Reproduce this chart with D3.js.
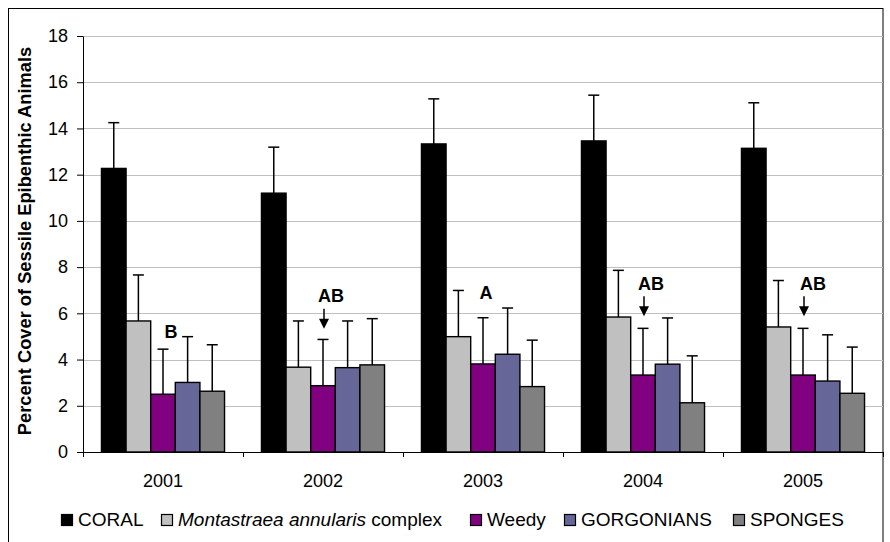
<!DOCTYPE html>
<html>
<head>
<meta charset="utf-8">
<script src="https://cdn.jsdelivr.net/npm/d3@7/dist/d3.min.js"></script>
<style>
  html, body { margin: 0; padding: 0; background: #fff; }
  svg { display: block; font-family: "Liberation Sans", Arial, sans-serif; }
</style>
</head>
<body>
<svg id="chart" width="890" height="542"></svg>
<script>
// ---------------- DATA ----------------
const years = ["2001", "2002", "2003", "2004", "2005"];
const seriesKeys = ["coral", "montastraea", "weedy", "gorgonians", "sponges"];
const coral          = [12.27, 11.20, 13.33, 13.46, 13.14];
const coralErr       = [1.98, 1.99, 1.95, 1.98, 1.97];
const montastraea    = [5.67, 3.67, 4.99, 5.84, 5.41];
const montastraeaErr = [1.99, 2.00, 2.00, 2.02, 2.01];
const weedy          = [2.50, 2.87, 3.81, 3.33, 3.33];
const weedyErr       = [1.95, 2.00, 2.00, 2.02, 2.02];
const gorgonians     = [3.01, 3.65, 4.23, 3.80, 3.07];
const gorgoniansErr  = [1.98, 2.02, 2.00, 2.00, 2.00];
const sponges        = [2.63, 3.77, 2.83, 2.13, 2.54];
const spongesErr     = [2.01, 2.00, 2.01, 2.03, 2.00];
const yTicks = [0, 2, 4, 6, 8, 10, 12, 14, 16, 18];
const annotationYears  = ["2001", "2002", "2003", "2004", "2005"];
const annotationLabels = ["B", "AB", "A", "AB", "AB"];
const annotationLevels = [5.2, 6.76, 6.91, 7.3, 7.3];
const annotationArrows = [false, true, false, true, true];

// ---------------- STYLE / LAYOUT ----------------
const values = { coral, montastraea, weedy, gorgonians, sponges };
const errors = { coral: coralErr, montastraea: montastraeaErr, weedy: weedyErr, gorgonians: gorgoniansErr, sponges: spongesErr };
const colors = { coral: "#000000", montastraea: "#C0C0C0", weedy: "#800080", gorgonians: "#666699", sponges: "#808080" };
const annotationDx = [8, 8, 3, 8, 10];

const plot = { left: 83, right: 883, top: 36, bottom: 452 };
const FONT = 18;

const svg = d3.select("#chart");

// outer border
svg.append("rect")
  .attr("x", 8.5).attr("y", 8.5)
  .attr("width", 874.5).attr("height", 560)
  .attr("fill", "none").attr("stroke", "#000").attr("stroke-width", 1);

const y = d3.scaleLinear().domain([0, 18]).range([plot.bottom, plot.top]);
const x0 = d3.scaleBand().domain(years).range([plot.left, plot.right]).paddingInner(0).paddingOuter(0);
const x1 = d3.scaleBand().domain(seriesKeys).range([0, x0.bandwidth()]).paddingInner(0).paddingOuter(0.75);

// gridlines
svg.append("g").selectAll("line")
  .data(yTicks.filter(d => d > 0))
  .join("line")
  .attr("x1", plot.left).attr("x2", plot.right)
  .attr("y1", d => Math.round(y(d)) + 0.5).attr("y2", d => Math.round(y(d)) + 0.5)
  .attr("stroke", "#C0C0C0").attr("stroke-width", 1.2);

// bars
const groups = svg.append("g").selectAll("g")
  .data(years)
  .join("g")
  .attr("transform", d => `translate(${x0(d)},0)`);

groups.selectAll("rect")
  .data((yr, i) => seriesKeys.map(k => ({ key: k, v: values[k][i], e: errors[k][i] })))
  .join("rect")
  .attr("x", d => x1(d.key))
  .attr("width", x1.bandwidth())
  .attr("y", d => y(d.v))
  .attr("height", d => y(0) - y(d.v))
  .attr("fill", d => colors[d.key])
  .attr("stroke", "#000").attr("stroke-width", 1.4);

// error bars (plus only)
const capW = 11;
const eb = groups.selectAll("g.err")
  .data((yr, i) => seriesKeys.map(k => ({ key: k, v: values[k][i], e: errors[k][i] })))
  .join("g").attr("class", "err");
eb.append("line")
  .attr("x1", d => x1(d.key) + x1.bandwidth() / 2)
  .attr("x2", d => x1(d.key) + x1.bandwidth() / 2)
  .attr("y1", d => y(d.v))
  .attr("y2", d => y(d.v + d.e))
  .attr("stroke", "#000").attr("stroke-width", 1.5);
eb.append("line")
  .attr("x1", d => x1(d.key) + x1.bandwidth() / 2 - capW / 2)
  .attr("x2", d => x1(d.key) + x1.bandwidth() / 2 + capW / 2)
  .attr("y1", d => y(d.v + d.e))
  .attr("y2", d => y(d.v + d.e))
  .attr("stroke", "#000").attr("stroke-width", 1.5);

// y axis
const yAxis = svg.append("g")
  .attr("transform", `translate(${plot.left},0)`)
  .call(d3.axisLeft(y).tickValues(yTicks).tickSize(6).tickSizeOuter(0).tickPadding(9));
yAxis.selectAll("text").attr("font-size", FONT).attr("font-family", "Liberation Sans, Arial, sans-serif").attr("fill", "#000");
yAxis.selectAll("line").attr("stroke", "#000");
yAxis.select(".domain").attr("stroke", "#000");

// x axis
const xAxis = svg.append("g")
  .attr("transform", `translate(0,${plot.bottom})`)
  .call(d3.axisBottom(x0).tickSize(0).tickPadding(22).tickSizeOuter(0));
xAxis.selectAll("text").attr("font-size", FONT).attr("font-family", "Liberation Sans, Arial, sans-serif").attr("fill", "#000");
xAxis.select(".domain").attr("stroke", "#000");
// category boundary ticks
const boundaries = years.map(d => x0(d)).concat([x0(years[years.length - 1]) + x0.bandwidth()]);
svg.append("g").selectAll("line")
  .data(boundaries)
  .join("line")
  .attr("x1", d => Math.round(d) + 0.5).attr("x2", d => Math.round(d) + 0.5)
  .attr("y1", plot.bottom).attr("y2", plot.bottom + 5)
  .attr("stroke", "#000");

// y axis title
svg.append("text")
  .attr("transform", `translate(31,241) rotate(-90)`)
  .attr("text-anchor", "middle")
  .attr("font-weight", "bold")
  .attr("font-size", 18.3)
  .text("Percent Cover of Sessile Epibenthic Animals");

// annotations
annotationYears.forEach((yr, i) => {
  const cx = x0(yr) + x1("weedy") + x1.bandwidth() / 2;
  const cy = y(annotationLevels[i]);
  svg.append("text")
    .attr("x", cx + annotationDx[i]).attr("y", cy)
    .attr("dy", "0.36em")
    .attr("text-anchor", "middle")
    .attr("font-weight", "bold")
    .attr("font-size", FONT)
    .text(annotationLabels[i]);
  if (annotationArrows[i]) {
    const ax = cx + 1;
    svg.append("line")
      .attr("x1", ax).attr("x2", ax)
      .attr("y1", cy + 13).attr("y2", cy + 24)
      .attr("stroke", "#000").attr("stroke-width", 1.5);
    svg.append("path")
      .attr("d", `M${ax - 5},${cy + 23} L${ax + 5},${cy + 23} L${ax},${cy + 33} Z`)
      .attr("fill", "#000");
  }
});

// legend
const legendItems = [
  { key: "coral", parts: [{ t: "CORAL", italic: false }] },
  { key: "montastraea", parts: [{ t: "Montastraea annularis", italic: true }, { t: " complex", italic: false }] },
  { key: "weedy", parts: [{ t: "Weedy", italic: false }] },
  { key: "gorgonians", parts: [{ t: "GORGONIANS", italic: false }] },
  { key: "sponges", parts: [{ t: "SPONGES", italic: false }] }
];
const legendX = [61, 161, 470, 564, 733];
const legend = svg.append("g");
const ly = 526;
legendItems.forEach((item, i) => {
  const lx = legendX[i];
  legend.append("rect")
    .attr("x", lx + 0.5).attr("y", 514.5)
    .attr("width", 11).attr("height", 11)
    .attr("fill", colors[item.key])
    .attr("stroke", "#000").attr("stroke-width", 1.2);
  const txt = legend.append("text")
    .attr("x", lx + 17).attr("y", ly)
    .attr("font-size", 19);
  item.parts.forEach(p => {
    txt.append("tspan")
      .attr("font-style", p.italic ? "italic" : "normal")
      .text(p.t);
  });
});
</script>
</body>
</html>
